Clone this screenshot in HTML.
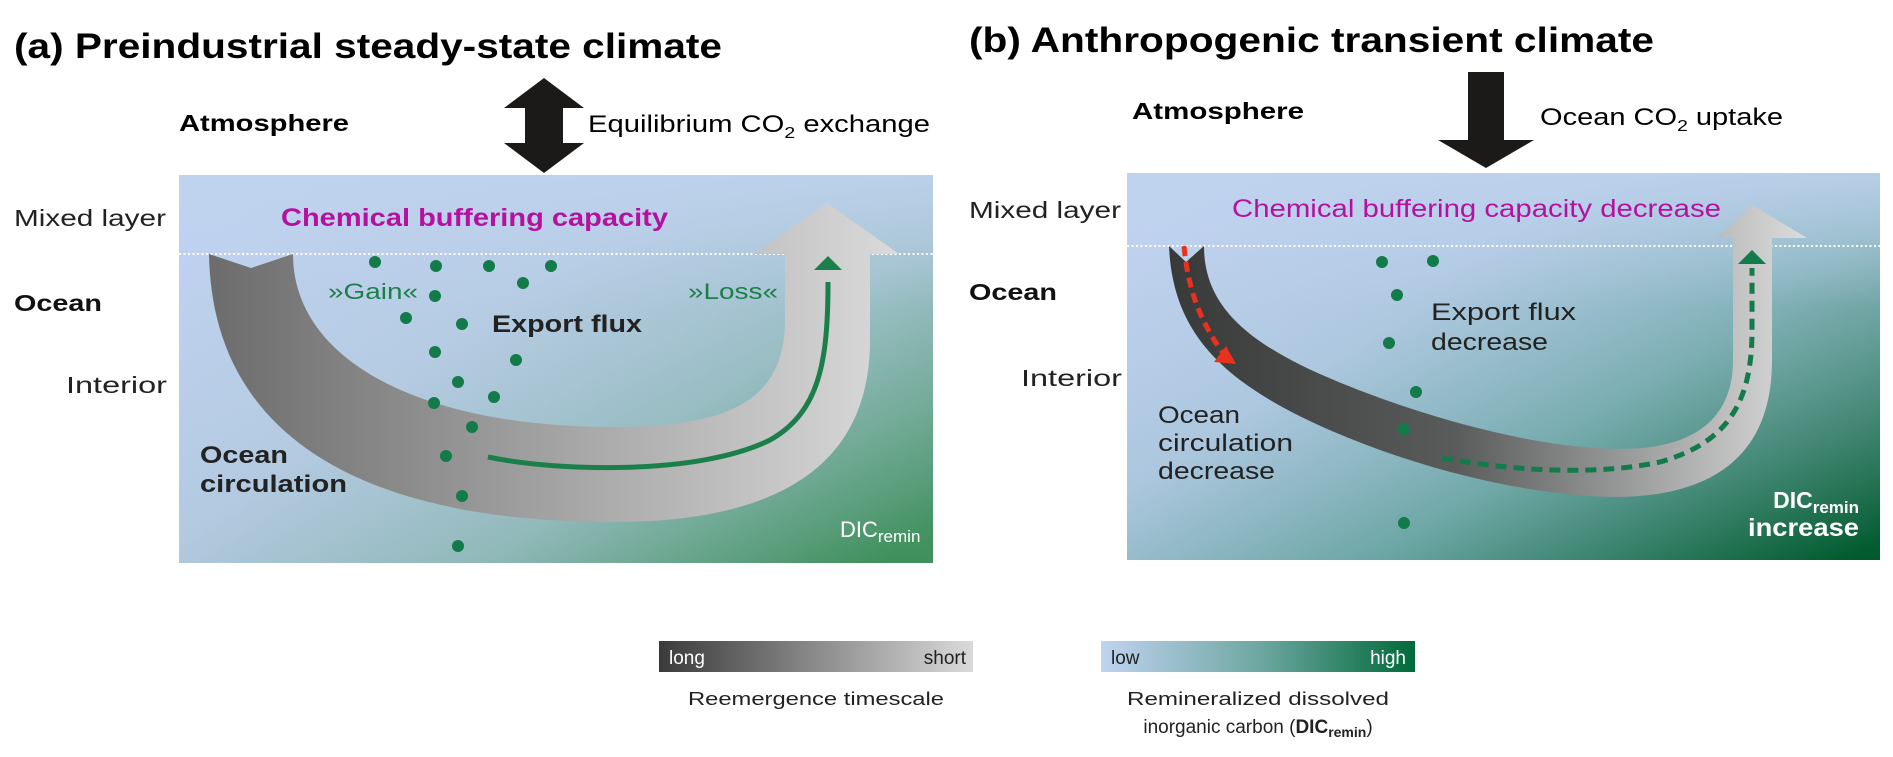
<!DOCTYPE html>
<html><head><meta charset="utf-8"><style>html,body{margin:0;padding:0;background:#fff}svg{display:block}text{font-family:"Liberation Sans",sans-serif}</style></head><body>
<svg width="1893" height="757" viewBox="0 0 1893 757" xmlns="http://www.w3.org/2000/svg">
<defs>
<linearGradient id="bgA" x1="0" y1="0.2" x2="1" y2="0.9"><stop offset="0" stop-color="#bed0ee"/><stop offset="0.35" stop-color="#b2c9df"/><stop offset="0.65" stop-color="#8fb8b8"/><stop offset="1" stop-color="#3f905c"/></linearGradient>
<linearGradient id="topA" x1="0" y1="0" x2="0" y2="1"><stop offset="0" stop-color="#bfd2ee" stop-opacity="0.9"/><stop offset="0.35" stop-color="#bfd2ee" stop-opacity="0.3"/><stop offset="1" stop-color="#bfd2ee" stop-opacity="0"/></linearGradient>
<linearGradient id="bgB" x1="0" y1="0.2" x2="1" y2="0.95"><stop offset="0" stop-color="#bed0ee"/><stop offset="0.3" stop-color="#a9c5dc"/><stop offset="0.6" stop-color="#6aa5a3"/><stop offset="1" stop-color="#005a2c"/></linearGradient>
<linearGradient id="arA" x1="0" y1="0" x2="1" y2="0"><stop offset="0" stop-color="#6c6c6c"/><stop offset="1" stop-color="#dadada"/></linearGradient>
<linearGradient id="arB" x1="0" y1="0" x2="1" y2="0"><stop offset="0" stop-color="#383a3a"/><stop offset="0.45" stop-color="#5a5c5c"/><stop offset="1" stop-color="#dcdcdc"/></linearGradient>
<linearGradient id="lg1" x1="0" y1="0" x2="1" y2="0"><stop offset="0" stop-color="#3b3b3b"/><stop offset="1" stop-color="#dadada"/></linearGradient>
<linearGradient id="lg2" x1="0" y1="0" x2="1" y2="0"><stop offset="0" stop-color="#c0d3f0"/><stop offset="0.5" stop-color="#6fa7a2"/><stop offset="1" stop-color="#006a3a"/></linearGradient>
</defs>

<!-- Panel A -->
<text x="14" y="58" font-size="35" font-weight="bold" textLength="708" lengthAdjust="spacingAndGlyphs">(a) Preindustrial steady-state climate</text>
<text x="179" y="131" font-size="23" font-weight="bold" textLength="170" lengthAdjust="spacingAndGlyphs">Atmosphere</text>
<polygon points="544,78 584,108 563,108 563,143 584,143 544,173 504,143 525,143 525,108 504,108" fill="#1b1a19"/>
<text x="588" y="132" font-size="24" textLength="342" lengthAdjust="spacingAndGlyphs">Equilibrium CO<tspan font-size="16" dy="6">2</tspan><tspan dy="-6"> exchange</tspan></text>
<rect x="179" y="175" width="754" height="388" fill="url(#bgA)"/>
<rect x="179" y="175" width="754" height="388" fill="url(#topA)"/>
<line x1="179" y1="254" x2="933" y2="254" stroke="#fff" stroke-width="2" stroke-dasharray="2,2.5"/>
<text x="14" y="226" font-size="23" fill="#222" textLength="152" lengthAdjust="spacingAndGlyphs">Mixed layer</text>
<text x="14" y="311" font-size="23" font-weight="bold" fill="#111" textLength="88" lengthAdjust="spacingAndGlyphs">Ocean</text>
<text x="66" y="393" font-size="23" fill="#222" textLength="101" lengthAdjust="spacingAndGlyphs">Interior</text>
<text x="281" y="226" font-size="25" font-weight="bold" fill="#b5119e" textLength="387" lengthAdjust="spacingAndGlyphs">Chemical buffering capacity</text>
<path d="M209,254 C212,435 360,522 613,522 C800,522 870,450 870,340 L870,254 L899,254 L827,203 L754,254 L785,254 L785,320 C785,400 730,427 613,427 C420,427 293,360 293,254 L251,268 Z" fill="url(#arA)"/>
<path d="M488,457 C560,472 700,475 770,440 C820,412 828,360 828,282" fill="none" stroke="#1b7f4a" stroke-width="5"/>
<polygon points="828,256 842,270 814,270" fill="#1b7f4a"/>
<g fill="#137a4a">
<circle cx="375" cy="262" r="6"/><circle cx="436" cy="266" r="6"/><circle cx="489" cy="266" r="6"/><circle cx="551" cy="266" r="6"/><circle cx="523" cy="283" r="6"/><circle cx="435" cy="296" r="6"/><circle cx="406" cy="318" r="6"/><circle cx="462" cy="324" r="6"/><circle cx="435" cy="352" r="6"/><circle cx="516" cy="360" r="6"/><circle cx="458" cy="382" r="6"/><circle cx="494" cy="397" r="6"/><circle cx="434" cy="403" r="6"/><circle cx="472" cy="427" r="6"/><circle cx="446" cy="456" r="6"/><circle cx="462" cy="496" r="6"/><circle cx="458" cy="546" r="6"/>
</g>
<text x="328" y="299" font-size="22" fill="#1b7f4a" textLength="90" lengthAdjust="spacingAndGlyphs">»Gain«</text>
<text x="688" y="299" font-size="22" fill="#1b7f4a" textLength="90" lengthAdjust="spacingAndGlyphs">»Loss«</text>
<text x="492" y="332" font-size="24" font-weight="bold" fill="#222" textLength="150" lengthAdjust="spacingAndGlyphs">Export flux</text>
<text x="200" y="463" font-size="24" font-weight="bold" fill="#222" textLength="88" lengthAdjust="spacingAndGlyphs">Ocean</text>
<text x="200" y="492" font-size="24" font-weight="bold" fill="#222" textLength="147" lengthAdjust="spacingAndGlyphs">circulation</text>
<text x="840" y="537" font-size="22" fill="#fff">DIC<tspan font-size="17" dy="5">remin</tspan></text>

<!-- Panel B -->
<text x="969" y="52" font-size="35" font-weight="bold" textLength="685" lengthAdjust="spacingAndGlyphs">(b) Anthropogenic transient climate</text>
<text x="1132" y="119" font-size="23" font-weight="bold" textLength="172" lengthAdjust="spacingAndGlyphs">Atmosphere</text>
<polygon points="1468,72 1504,72 1504,140 1534,140 1486,168 1438,140 1468,140" fill="#1b1a19"/>
<text x="1540" y="125" font-size="24" textLength="243" lengthAdjust="spacingAndGlyphs">Ocean CO<tspan font-size="16" dy="6">2</tspan><tspan dy="-6"> uptake</tspan></text>
<rect x="1127" y="173" width="753" height="387" fill="url(#bgB)"/>
<rect x="1127" y="173" width="753" height="387" fill="url(#topA)"/>
<line x1="1127" y1="246" x2="1880" y2="246" stroke="#fff" stroke-width="2" stroke-dasharray="2,2.5"/>
<text x="969" y="218" font-size="23" fill="#222" textLength="152" lengthAdjust="spacingAndGlyphs">Mixed layer</text>
<text x="969" y="300" font-size="23" font-weight="bold" fill="#111" textLength="88" lengthAdjust="spacingAndGlyphs">Ocean</text>
<text x="1021" y="386" font-size="23" fill="#222" textLength="101" lengthAdjust="spacingAndGlyphs">Interior</text>
<text x="1232" y="217" font-size="25" fill="#b5119e" textLength="489" lengthAdjust="spacingAndGlyphs">Chemical buffering capacity decrease</text>
<path d="M1169,246 C1173,340 1230,395 1380,450 C1470,482 1555,497 1620,497 C1720,495 1772,450 1772,360 L1772,238 L1807,238 L1752,205 L1717,238 L1733,238 L1733,360 C1733,422 1690,449 1620,449 C1560,449 1480,432 1400,405 C1270,360 1204,320 1204,246 L1186,262 Z" fill="url(#arB)"/>
<path d="M1184,246 C1188,290 1200,320 1222,352" fill="none" stroke="#e8321e" stroke-width="5" stroke-dasharray="10,6"/>
<polygon points="1226,346 1236,364 1214,362" fill="#e8321e"/>
<path d="M1442,458 C1520,472 1600,475 1660,462 C1730,442 1752,400 1752,330 L1752,268" fill="none" stroke="#137a4a" stroke-width="5" stroke-dasharray="11,7"/>
<polygon points="1752,250 1766,264 1738,264" fill="#137a4a"/>
<g fill="#137a4a">
<circle cx="1382" cy="262" r="6"/><circle cx="1433" cy="261" r="6"/><circle cx="1397" cy="295" r="6"/><circle cx="1389" cy="343" r="6"/><circle cx="1416" cy="392" r="6"/><circle cx="1404" cy="429" r="6"/><circle cx="1404" cy="523" r="6"/>
</g>
<text x="1431" y="320" font-size="24" fill="#222" textLength="145" lengthAdjust="spacingAndGlyphs">Export flux</text>
<text x="1431" y="350" font-size="24" fill="#222" textLength="117" lengthAdjust="spacingAndGlyphs">decrease</text>
<text x="1158" y="423" font-size="24" fill="#222" textLength="82" lengthAdjust="spacingAndGlyphs">Ocean</text>
<text x="1158" y="451" font-size="24" fill="#222" textLength="135" lengthAdjust="spacingAndGlyphs">circulation</text>
<text x="1158" y="479" font-size="24" fill="#222" textLength="117" lengthAdjust="spacingAndGlyphs">decrease</text>
<text x="1859" y="508" font-size="23" font-weight="bold" fill="#fff" text-anchor="end">DIC<tspan font-size="17" dy="5">remin</tspan></text>
<text x="1859" y="536" font-size="25" font-weight="bold" fill="#fff" text-anchor="end" textLength="111" lengthAdjust="spacingAndGlyphs">increase</text>

<!-- Legend -->
<rect x="659" y="641" width="314" height="31" fill="url(#lg1)"/>
<text x="669" y="664" font-size="19" fill="#fff">long</text>
<text x="966" y="664" font-size="19" fill="#222" text-anchor="end">short</text>
<text x="816" y="705" font-size="18" fill="#222" text-anchor="middle" textLength="256" lengthAdjust="spacingAndGlyphs">Reemergence timescale</text>
<rect x="1101" y="641" width="314" height="31" fill="url(#lg2)"/>
<text x="1111" y="664" font-size="19" fill="#222">low</text>
<text x="1406" y="664" font-size="19" fill="#fff" text-anchor="end">high</text>
<text x="1258" y="705" font-size="18" fill="#222" text-anchor="middle" textLength="262" lengthAdjust="spacingAndGlyphs">Remineralized dissolved</text>
<text x="1258" y="733" font-size="19" fill="#222" text-anchor="middle">inorganic carbon (<tspan font-weight="bold">DIC<tspan font-size="14" dy="4">remin</tspan></tspan><tspan dy="-4">)</tspan></text>
</svg>
</body></html>
